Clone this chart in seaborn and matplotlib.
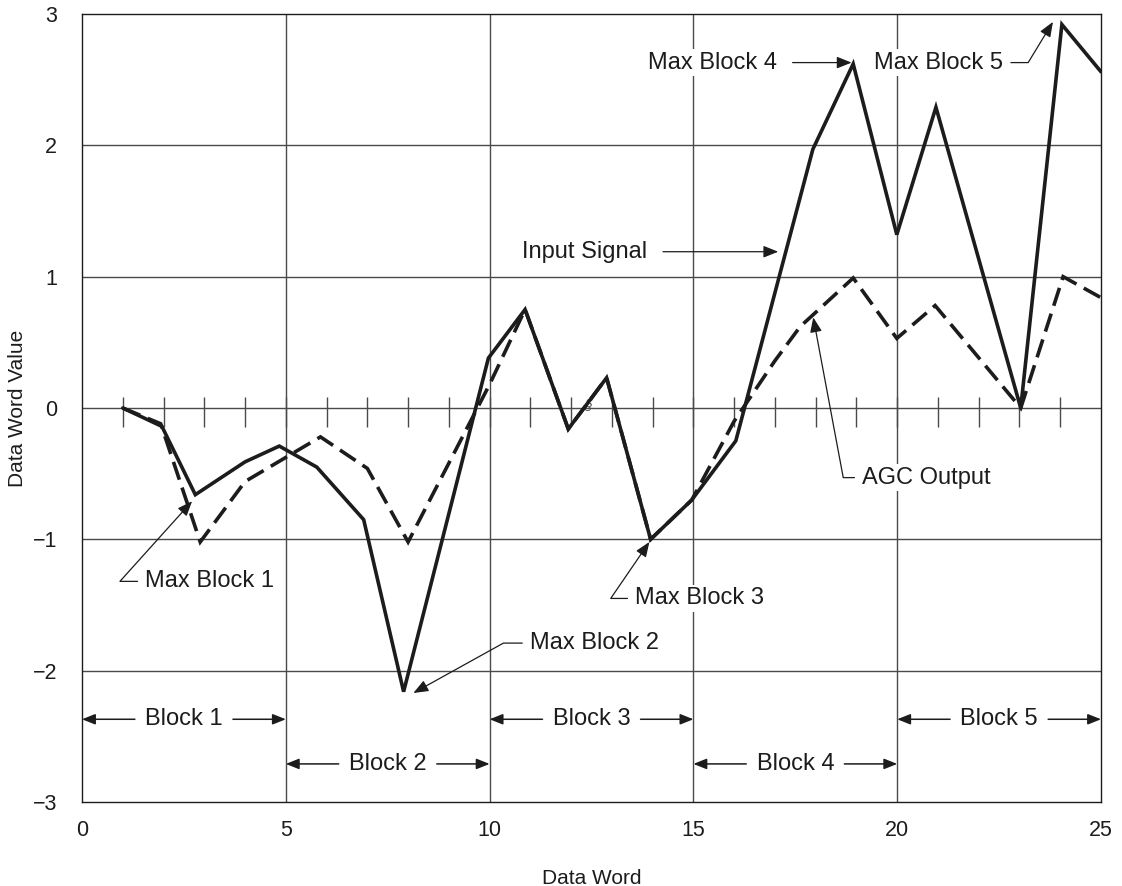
import numpy as np
import matplotlib
matplotlib.use("Agg")
import matplotlib.pyplot as plt
import seaborn as sns

# input signal (solid) - vertices
input_x = [1, 1.96, 2.78, 4.0, 4.84, 5.76, 6.91, 7.89, 9.97, 10.87, 11.93, 12.87,
           13.95, 14.96, 16.04, 17.93, 18.92, 19.99, 20.95, 23.03, 24.04, 25]
input_y = [0.0, -0.14, -0.66, -0.41, -0.29, -0.45, -0.85, -2.16, 0.38, 0.75, -0.16, 0.23,
           -1.0, -0.70, -0.25, 1.97, 2.62, 1.32, 2.29, 0.0, 2.92, 2.56]

# AGC output (dashed)
agc_x = [1, 1.93, 2.9, 4.0, 5.85, 7.0, 8.0, 10.0, 10.87, 11.93, 12.87, 13.95,
         14.96, 16.0, 17.0, 17.62, 18.92, 19.99, 20.93, 23.03, 24.07, 25]
agc_y = [0.0, -0.12, -1.02, -0.56, -0.22, -0.46, -1.02, 0.18, 0.75, -0.16, 0.23, -1.0,
         -0.70, -0.10, 0.36, 0.62, 0.99, 0.53, 0.78, 0.0, 1.0, 0.84]

block_names = ["Block 1", "Block 2", "Block 3", "Block 4", "Block 5"]
block_lo = [0, 5, 10, 15, 20]
block_hi = [5, 10, 15, 20, 25]
block_y = [-2.37, -2.71, -2.37, -2.71, -2.37]

x_ticks = [0, 5, 10, 15, 20, 25]
y_ticks = [-3, -2, -1, 0, 1, 2, 3]

INK = "#1c1c1c"
GRID = "#4a4a4a"

sns.set_style("white")
plt.rcParams['font.family'] = ['Liberation Sans', 'DejaVu Sans']

fig, ax = plt.subplots(figsize=(11.22, 8.86), dpi=100)
fig.subplots_adjust(left=0.0731, right=0.9813, top=0.9842, bottom=0.0948)

# grid lines
for gx in [5, 10, 15, 20]:
    ax.axvline(gx, color=GRID, lw=1.0, zorder=1)
for gy in [-2, -1, 0, 1, 2]:
    ax.axhline(gy, color=GRID, lw=1.0, zorder=1)
# small ticks along the zero line
ax.vlines(np.arange(1, 25), -0.145, 0.085, color=GRID, lw=1.0, zorder=1)

sns.lineplot(x=input_x, y=input_y, ax=ax, color=INK, lw=2.6, sort=False,
             solid_joinstyle="miter", zorder=4)
sns.lineplot(x=agc_x, y=agc_y, ax=ax, color=INK, lw=2.6, sort=False,
             linestyle=(0, (5.2, 2.3)), dash_joinstyle="miter", dash_capstyle="butt", zorder=3)

ax.set_xlim(0, 25)
ax.set_ylim(-3, 3)
ax.set_xticks(x_ticks)
ax.set_yticks(y_ticks)
ax.tick_params(length=0, labelsize=15.5, colors=INK)
ax.tick_params(axis="x", pad=13)
ax.tick_params(axis="y", pad=18)
ax.set_xlabel("Data Word", fontsize=15, labelpad=20, color=INK)
ax.set_ylabel("Data Word Value", fontsize=15, labelpad=4, color=INK)
for s in ax.spines.values():
    s.set_color(INK)
    s.set_linewidth(1.0)

# block markers along the bottom
for name, lo, hi, yy in zip(block_names, block_lo, block_hi, block_y):
    mid = (lo + hi) / 2
    for end, col in ((lo, INK), (hi, "none")):
        ax.annotate(name, xy=(end, yy), xytext=(mid, yy), ha="center", va="center",
                    fontsize=17, color=col, zorder=6,
                    arrowprops=dict(arrowstyle="-|>,head_length=0.8,head_width=0.32",
                                    mutation_scale=10, color=INK, lw=1.1,
                                    shrinkA=5, shrinkB=0))

# callouts
bg = dict(fc="white", ec="none", pad=1.5)
head = "-|>,head_length=0.9,head_width=0.36"

def callout(txt, tip, pos, ha, angA, angB):
    ax.annotate(txt, xy=tip, xytext=pos, ha=ha, va="center", fontsize=17,
                color=INK, bbox=bg, zorder=6,
                arrowprops=dict(arrowstyle=head, mutation_scale=10, color=INK, lw=0.9,
                                shrinkA=4, shrinkB=0,
                                connectionstyle=f"angle,angleA={angA},angleB={angB},rad=0"))

callout("Max Block 1", (2.70, -0.71), (1.55, -1.32), "left", 180, 48)
callout("Max Block 2", (8.13, -2.17), (10.99, -1.79), "left", 180, 29)
callout("Max Block 3", (13.92, -1.02), (13.57, -1.45), "left", 180, 55.6)
callout("Max Block 5", (23.82, 2.94), (22.6, 2.63), "right", 0, 58.7)
callout("AGC Output", (17.94, 0.69), (19.14, -0.53), "left", 180, 100.6)

ax.annotate("Max Block 4", xy=(18.88, 2.63), xytext=(17.04, 2.63), ha="right", va="center",
            fontsize=17, color=INK, bbox=bg, zorder=6,
            arrowprops=dict(arrowstyle=head, mutation_scale=10, color=INK, lw=0.9,
                            shrinkA=10, shrinkB=0))
ax.annotate("Input Signal", xy=(17.08, 1.19), xytext=(10.79, 1.19), ha="left", va="center",
            fontsize=17, color=INK, bbox=bg, zorder=6,
            arrowprops=dict(arrowstyle=head, mutation_scale=10, color=INK, lw=0.9,
                            shrinkA=10, shrinkB=0))

ax.text(12.41, 0.02, "§", fontsize=10, color="#555555", ha="center", va="center",
        style="italic", zorder=2)

fig.savefig("out.png", dpi=100)
